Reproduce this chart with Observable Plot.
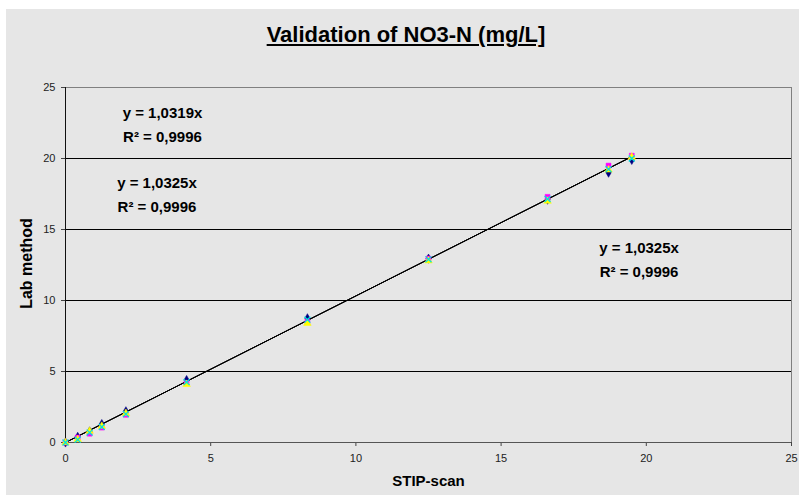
<!DOCTYPE html>
<html>
<head>
<meta charset="utf-8">
<script src="https://cdn.jsdelivr.net/npm/d3@7"></script>
<script src="https://cdn.jsdelivr.net/npm/@observablehq/plot@0.6"></script>
<style>
  html, body { margin: 0; padding: 0; background: #fff; }
  #wrap { position: relative; width: 799px; height: 495px; padding: 0; }
  #chart { position: absolute; left: 6px; top: 9px; }
  #title { position: absolute; left: 0; width: 812px; top: 22px; text-align: center; line-height: 25px;
           font: bold 22px "Liberation Sans", Arial, sans-serif; color: #000; text-decoration: underline; }
</style>
</head>
<body>
<div id="wrap">
  <div id="chart"></div>
  <div id="title">Validation of NO3-N (mg/L]</div>
</div>
<script>
// STIP-scan values (x)
const stipScan = [0, 0.42, 0.83, 1.25, 2.08, 4.17, 8.33, 12.5, 16.6, 18.7, 19.5];
// Lab method values (y), per series
const seriesNames = ["Series 1", "Series 2", "Series 3", "Series 4"];
const labSeries1 = [0, 0.40, 0.78, 1.30, 2.20, 4.40, 8.75, 12.95, 17.1, 19.0, 19.9];
const labSeries2 = [0, 0.35, 0.62, 1.05, 1.95, 4.20, 8.50, 12.95, 17.3, 19.5, 20.2];
const labSeries3 = [0, 0.22, 0.80, 1.15, 2.05, 4.10, 8.40, 12.80, 17.0, 19.2, 20.1];
const labSeries4 = [0, 0.20, 0.70, 1.10, 2.00, 4.25, 8.65, 12.90, 17.15, 19.25, 20.0];
const seriesColors = ["#000080", "#ff00ff", "#ffff00", "#00e0e0"];
const seriesSymbols = ["diamond", "square", "triangle", "times"];
// trendline slopes (series 1..3)
const slopes = [1.0319, 1.0325, 1.0325];
const eqLabels = ["y = 1,0319x", "y = 1,0325x", "y = 1,0325x"];
const r2Labels = ["R² = 0,9996", "R² = 0,9996", "R² = 0,9996"];
const labelX = [3.34, 3.15, 19.75];
const labelY = [22.55, 17.65, 13.05];
const ticks = [0, 5, 10, 15, 20, 25];

const allLab = [labSeries1, labSeries2, labSeries3, labSeries4];
const points = allLab.flatMap((vals, s) =>
  stipScan.map((x, i) => ({x, y: vals[i], s: seriesNames[s]})));
const xmax = d3.max(stipScan);
const trend = slopes.flatMap((m, s) => [0, xmax].map(x => ({x, y: m * x, s: seriesNames[s]})));
const notes = eqLabels.map((e, i) => ({x: labelX[i], y: labelY[i], t: e + "\n" + r2Labels[i]}));

const font = '"Liberation Sans", Arial, sans-serif';
const chart = Plot.plot({
  width: 793, height: 486,
  marginLeft: 59, marginRight: 8, marginTop: 78, marginBottom: 53,
  style: {background: "#e6e6e6", fontFamily: font, color: "#222", overflow: "visible"},
  x: {domain: [0, 25]},
  y: {domain: [0, 25]},
  marks: [
    Plot.gridY([5, 10, 15, 20], {stroke: "#000", strokeOpacity: 1, strokeWidth: 1.2}),
    Plot.ruleY([25], {stroke: "#808080"}),
    Plot.ruleX([25], {stroke: "#808080"}),
    Plot.axisX({ticks, tickSize: 4, tickPadding: 8, fontSize: 11, label: null, stroke: "#444"}),
    Plot.axisY({ticks, tickSize: 4, tickPadding: 6, fontSize: 11, label: null, stroke: "#444"}),
    Plot.ruleY([0], {stroke: "#555"}),
    Plot.ruleX([0], {stroke: "#111"}),
    ...slopes.map((m, s) => Plot.line(trend.filter(d => d.s === seriesNames[s]), {x: "x", y: "y", stroke: "#000", strokeWidth: 1})),
    ...seriesNames.map((name, s) => Plot.dot(points.filter(d => d.s === name), {
      x: "x", y: "y", symbol: () => seriesSymbols[s], r: 2.8,
      fill: seriesSymbols[s] === "times" ? "none" : seriesColors[s],
      stroke: seriesColors[s], strokeWidth: seriesSymbols[s] === "times" ? 1.3 : 0.5
    })),
    Plot.text(notes, {x: "x", y: "y", text: "t", fontSize: 15, fontWeight: "bold", lineHeight: 1.6, fill: "#000"}),
    Plot.text(["Lab method"], {frameAnchor: "left", textAnchor: "middle", lineAnchor: "middle", dx: -38.5, dy: -1.5, rotate: -90, fontSize: 16, fontWeight: "bold", fill: "#000"}),
    Plot.text(["STIP-scan"], {frameAnchor: "bottom", textAnchor: "middle", lineAnchor: "middle", dy: 39, fontSize: 15, fontWeight: "bold", fill: "#000"})
  ]
});
document.getElementById("chart").appendChild(chart);
</script>
</body>
</html>
